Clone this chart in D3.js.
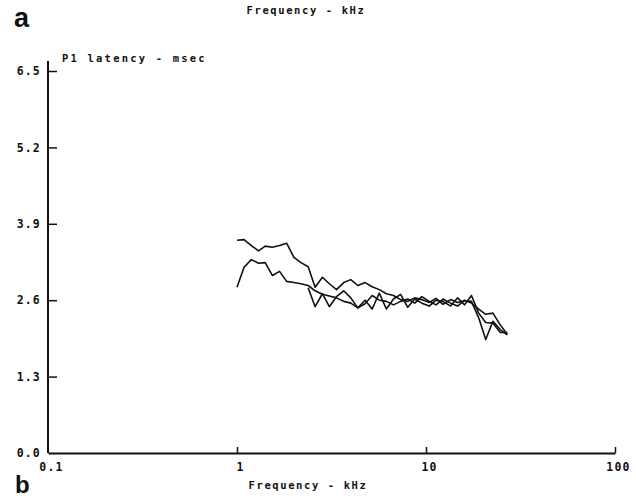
<!DOCTYPE html>
<html lang="en">
<head>
<meta charset="UTF-8">
<title>P1 latency</title>
<style>
  body { margin: 0; background: #fff; }
  text { font-family: "DejaVu Sans Mono", monospace; fill: #111; }
</style>
</head>
<body>
<script src="https://d3js.org/d3.v7.min.js"></script>
<script>
// frequency points (kHz), 1/8-octave steps
var freqs = [1.0, 1.09, 1.19, 1.3, 1.41, 1.54, 1.68, 1.83, 2.0, 2.18, 2.38, 2.59, 2.83,
  3.08, 3.36, 3.67, 4.0, 4.36, 4.76, 5.19, 5.66, 6.17, 6.73, 7.34, 8.0, 8.72, 9.51,
  10.4, 11.3, 12.3, 13.5, 14.7, 16.0, 17.4, 19.0, 20.7, 22.6, 24.7, 26.9];

// P1 latency (msec) for three recordings
var latA = [3.62, 3.63, 3.53, 3.44, 3.52, 3.50, 3.53, 3.57, 3.33, 3.24, 3.17, 2.82, 2.99,
  2.88, 2.78, 2.90, 2.95, 2.85, 2.90, 2.83, 2.78, 2.71, 2.68, 2.61, 2.58, 2.64, 2.61,
  2.56, 2.63, 2.53, 2.61, 2.56, 2.59, 2.58, 2.30, 1.93, 2.24, 2.10, 2.01];
var latB = [2.82, 3.16, 3.29, 3.23, 3.24, 3.02, 3.09, 2.92, 2.90, 2.88, 2.85, 2.76, 2.70,
  2.67, 2.64, 2.58, 2.55, 2.47, 2.60, 2.45, 2.72, 2.45, 2.62, 2.70, 2.48, 2.62, 2.55,
  2.50, 2.60, 2.58, 2.50, 2.64, 2.52, 2.68, 2.38, 2.22, 2.21, 2.05, 2.05];
var latC = [null, null, null, null, null, null, null, null, null, null, 2.81, 2.49, 2.71,
  2.49, 2.66, 2.76, 2.64, 2.47, 2.54, 2.68, 2.60, 2.58, 2.52, 2.58, 2.62, 2.55, 2.66,
  2.58, 2.52, 2.62, 2.55, 2.50, 2.60, 2.55, 2.45, 2.36, 2.38, 2.18, 2.02];

var xTicks = [0.1, 1, 10, 100];
var yTicks = [0.0, 1.3, 2.6, 3.9, 5.2, 6.5];

var width = 636, height = 500;

var svg = d3.select('body').append('svg')
  .attr('width', width)
  .attr('height', height);

var x = d3.scaleLog().domain([0.1, 100]).range([48, 615]);
var y = d3.scaleLinear().domain([0, 6.5]).range([453, 71]);

// axes
var xAxis = d3.axisBottom(x).tickValues(xTicks).tickSizeInner(-6).tickSizeOuter(0)
  .tickFormat(function (d) { return d >= 1 ? d3.format('d')(d) : '0.1'; });
var gx = svg.append('g').attr('transform', 'translate(0,' + y(0) + ')').call(xAxis);
gx.select('.domain').attr('stroke', '#111').attr('stroke-width', 2);
gx.selectAll('.tick line').attr('stroke', '#111').attr('stroke-width', 1.5);
gx.selectAll('.tick text')
  .attr('dy', '0.35em').attr('y', 14).attr('dx', 3)
  .style('font-family', '"DejaVu Sans Mono", monospace')
  .style('font-size', '11.5px').style('font-weight', 'bold').style('letter-spacing', '1.2px')
  .attr('fill', '#111');
gx.selectAll('.tick').filter(function (d) { return d === 0.1; }).select('line').remove();

var yAxis = d3.axisLeft(y).tickValues(yTicks).tickSizeInner(-9).tickSizeOuter(0)
  .tickFormat(d3.format('.1f'));
var gy = svg.append('g').attr('transform', 'translate(' + x(0.1) + ',0)').call(yAxis);
gy.select('.domain').attr('stroke', '#111').attr('stroke-width', 2)
  .attr('d', 'M0,' + y(0) + 'V' + (y(6.5) - 10));
gy.selectAll('.tick line').attr('stroke', '#111').attr('stroke-width', 1.5);
gy.selectAll('.tick text')
  .attr('x', -7)
  .style('font-family', '"DejaVu Sans Mono", monospace')
  .style('font-size', '11.5px').style('font-weight', 'bold').style('letter-spacing', '1.2px')
  .attr('fill', '#111');
gy.selectAll('.tick').filter(function (d) { return d === 0; }).select('line').remove();

// data lines
var line = d3.line()
  .defined(function (d) { return d[1] != null; })
  .x(function (d) { return x(d[0]); })
  .y(function (d) { return y(d[1]); });

[latA, latB, latC].forEach(function (s) {
  svg.append('path')
    .datum(freqs.map(function (f, i) { return [f, s[i]]; }))
    .attr('fill', 'none')
    .attr('stroke', '#111')
    .attr('stroke-width', 1.6)
    .attr('stroke-linejoin', 'round')
    .attr('d', line);
});

// labels
svg.append('text').attr('x', 306).attr('y', 14).attr('text-anchor', 'middle')
  .style('font-size', '10.5px').style('font-weight', 'bold').style('letter-spacing', '1.6px')
  .text('Frequency - kHz');
svg.append('text').attr('x', 308).attr('y', 489).attr('text-anchor', 'middle')
  .style('font-size', '10.5px').style('font-weight', 'bold').style('letter-spacing', '1.6px')
  .text('Frequency - kHz');
svg.append('text').attr('x', 62).attr('y', 62)
  .style('font-size', '10.5px').style('font-weight', 'bold').style('letter-spacing', '2.2px')
  .text('P1 latency - msec');

svg.append('text').attr('x', 14).attr('y', 27)
  .style('font-family', '"Liberation Sans", Arial, sans-serif')
  .style('font-size', '27px').style('font-weight', 'bold')
  .text('a');
svg.append('text').attr('x', 15).attr('y', 493)
  .style('font-family', '"Liberation Sans", Arial, sans-serif')
  .style('font-size', '24px').style('font-weight', 'bold')
  .text('b');
</script>
</body>
</html>
